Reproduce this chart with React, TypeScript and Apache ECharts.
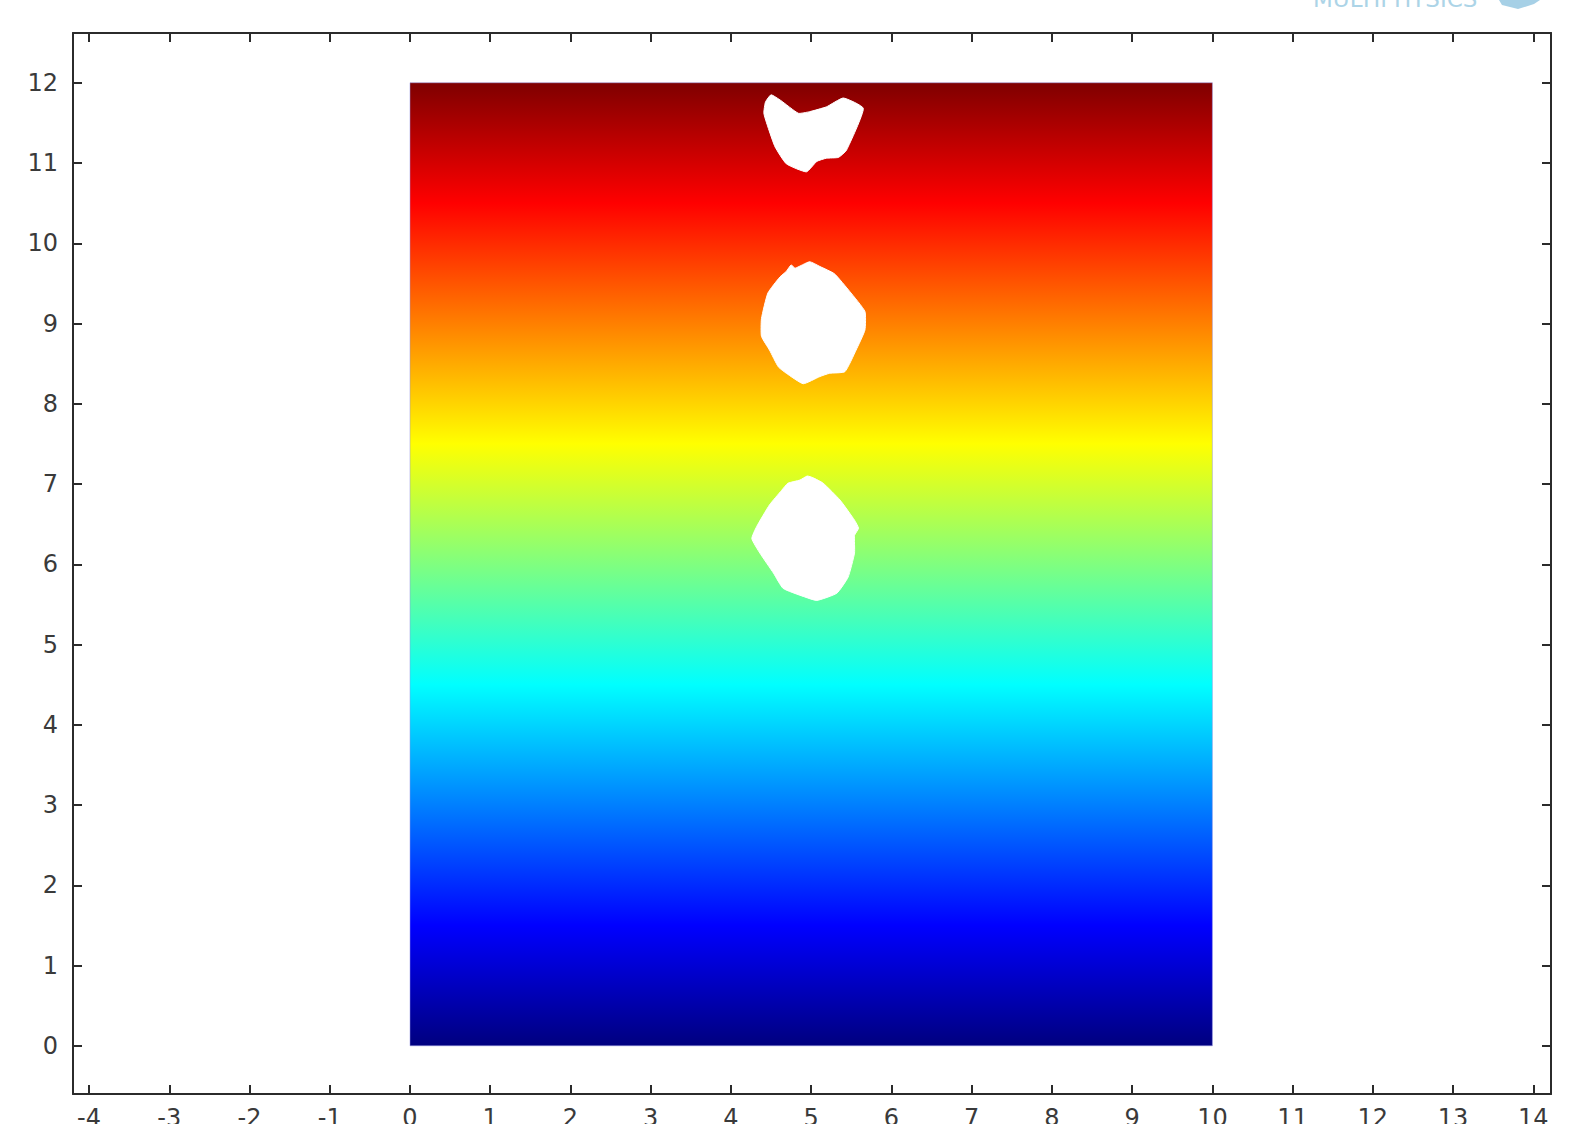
import React, { useEffect, useRef } from "react";
import * as echarts from "echarts";

// Axis ranges and ticks
const xRange = [-4.2, 14.22];
const yRange = [-0.6, 12.62];
const xTicks = [-4, -3, -2, -1, 0, 1, 2, 3, 4, 5, 6, 7, 8, 9, 10, 11, 12, 13, 14];
const yTicks = [0, 1, 2, 3, 4, 5, 6, 7, 8, 9, 10, 11, 12];

// Domain rectangle [x0, y0, x1, y1]
const domain = [[0, 0, 10, 12]];

// Jet colour scale stops along the height of the domain (0 = bottom, 1 = top)
const colorStops = [
  { offset: 0, color: "#00007f" },
  { offset: 0.125, color: "#0000ff" },
  { offset: 0.375, color: "#00ffff" },
  { offset: 0.625, color: "#ffff00" },
  { offset: 0.875, color: "#ff0000" },
  { offset: 1, color: "#7f0000" },
];

// Bubbles (holes in the domain), outline points [x, y]
const bubbleTop = [
  [4.5, 11.85], [4.62, 11.78], [4.84, 11.62], [4.98, 11.64], [5.19, 11.7], [5.4, 11.81], [5.65, 11.68],
  [5.44, 11.16], [5.34, 11.07], [5.19, 11.06], [5.07, 11.02], [4.94, 10.89], [4.69, 10.99],
  [4.55, 11.2], [4.46, 11.45], [4.41, 11.62], [4.43, 11.76],
];
const bubbleMiddle = [
  [4.75, 9.73], [4.8, 9.69], [4.98, 9.77], [5.11, 9.71], [5.29, 9.62], [5.48, 9.4],
  [5.67, 9.15], [5.67, 8.92], [5.56, 8.67], [5.42, 8.4], [5.23, 8.38], [5.11, 8.34],
  [4.9, 8.25], [4.69, 8.38], [4.59, 8.46], [4.48, 8.67], [4.38, 8.84], [4.38, 9.06],
  [4.46, 9.38], [4.61, 9.58], [4.69, 9.65],
];
const bubbleBottom = [
  [4.71, 7.01], [4.86, 7.05], [4.95, 7.1], [5.02, 7.08], [5.15, 7.01], [5.36, 6.8],
  [5.54, 6.55], [5.59, 6.45], [5.54, 6.36], [5.54, 6.14], [5.46, 5.84], [5.32, 5.64],
  [5.07, 5.55], [4.9, 5.6], [4.65, 5.7], [4.53, 5.89], [4.36, 6.14], [4.26, 6.32],
  [4.32, 6.47], [4.48, 6.74], [4.63, 6.92],
];
const bubbles = [bubbleTop, bubbleMiddle, bubbleBottom];

const AXIS_COLOR = "#2b2b2b";
const LABEL_COLOR = "#3a3a3a";
const FONT = "DejaVu Sans";

function makeX(position: "top" | "bottom", showLabel: boolean) {
  return {
    type: "value",
    position,
    min: xRange[0],
    max: xRange[1],
    axisLine: { show: true, onZero: false, lineStyle: { color: AXIS_COLOR, width: 2 } },
    axisTick: { show: true, inside: true, length: 9, customValues: xTicks, lineStyle: { color: AXIS_COLOR, width: 2 } },
    axisLabel: {
      show: showLabel,
      customValues: xTicks,
      color: LABEL_COLOR,
      fontFamily: FONT,
      fontSize: 24,
      margin: 12,
      formatter: (v: number) => String(Math.round(v)),
    },
    splitLine: { show: false },
  };
}

function makeY(position: "left" | "right", showLabel: boolean) {
  return {
    type: "value",
    position,
    min: yRange[0],
    max: yRange[1],
    axisLine: { show: true, onZero: false, lineStyle: { color: AXIS_COLOR, width: 2 } },
    axisTick: { show: true, inside: true, length: 9, customValues: yTicks, lineStyle: { color: AXIS_COLOR, width: 2 } },
    axisLabel: {
      show: showLabel,
      customValues: yTicks,
      color: LABEL_COLOR,
      fontFamily: FONT,
      fontSize: 24,
      margin: 15,
      formatter: (v: number) => String(Math.round(v)),
    },
    splitLine: { show: false },
  };
}

export default function App() {
  const ref = useRef<HTMLDivElement>(null);
  useEffect(() => {
    if (!ref.current) return;
    const chart = echarts.init(ref.current, undefined, { renderer: "svg" });
    chart.setOption({
      animation: false,
      backgroundColor: "#ffffff",
      grid: { left: 73, right: 28, top: 33, bottom: 30, outerBoundsMode: "none", containLabel: false },
      xAxis: [makeX("bottom", true), makeX("top", false)],
      yAxis: [makeY("left", true), makeY("right", false)],
      graphic: [
        {
          type: "text",
          x: 1313,
          y: 10,
          style: {
            text: "MULTIPHYSICS",
            fontFamily: FONT,
            fontSize: 23,
            fill: "#acd4e7",
            verticalAlign: "bottom",
            letterSpacing: 0.5,
          },
          silent: true,
        },
        {
          type: "polygon",
          shape: { points: [[1499, 0], [1540, 0], [1534, 4], [1518, 9], [1502, 5]] },
          style: { fill: "#a6d0e6" },
          silent: true,
        },
      ],
      series: [
        {
          type: "custom",
          xAxisIndex: 0,
          yAxisIndex: 0,
          data: domain,
          renderItem: (params: any, api: any) => {
            const p0 = api.coord([api.value(0), api.value(1)]);
            const p1 = api.coord([api.value(2), api.value(3)]);
            return {
              type: "rect",
              shape: { x: p0[0], y: p1[1], width: p1[0] - p0[0], height: p0[1] - p1[1] },
              style: {
                fill: new echarts.graphic.LinearGradient(0, 1, 0, 0, colorStops),
                stroke: "rgba(150,150,230,0.5)",
                lineWidth: 1,
              },
            };
          },
        },
        {
          type: "custom",
          xAxisIndex: 0,
          yAxisIndex: 0,
          data: bubbles.map((_, i) => [i]),
          renderItem: (params: any, api: any) => {
            const pts = bubbles[api.value(0)].map((p) => api.coord(p));
            return {
              type: "polygon",
              shape: { points: pts, smooth: 0.15 },
              style: { fill: "#ffffff", stroke: "#ffffff", lineWidth: 1 },
            };
          },
        },
      ],
    });
    return () => chart.dispose();
  }, []);
  return (
    <div
      ref={ref}
      style={{ position: "fixed", left: 0, top: 0, width: 1579, height: 1124 }}
    />
  );
}
